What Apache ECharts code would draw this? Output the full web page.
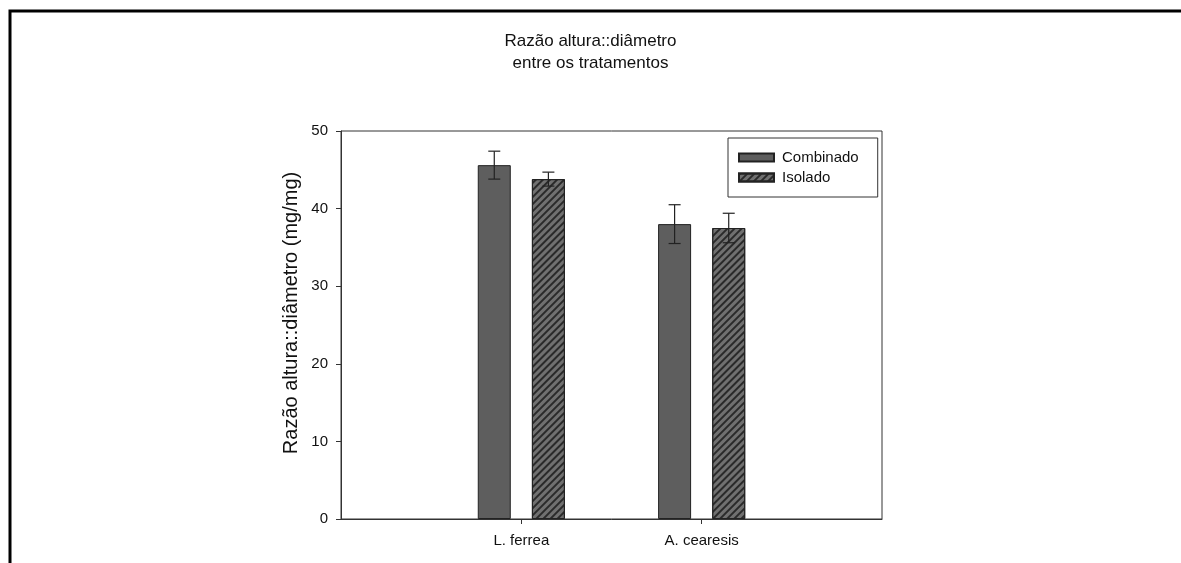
<!DOCTYPE html>
<html>
<head>
<meta charset="utf-8">
<script src="https://cdn.jsdelivr.net/npm/echarts@6/dist/echarts.min.js"></script>
<style>
html,body{margin:0;padding:0;background:#fff;}
#chart{width:1181px;height:563px;}
</style>
</head>
<body>
<div id="chart"></div>
<script>
// ---- data ----
const categories = ['L. ferrea', 'A. cearesis'];
const seriesNames = ['Combinado', 'Isolado'];
const combinadoMean = [45.6, 38.0];
const combinadoErr = [1.8, 2.5];
const isoladoMean = [43.8, 37.5];
const isoladoErr = [0.9, 1.9];
const yTicks = [0, 10, 20, 30, 40, 50];

const FONT = 'Liberation Sans, Arial, sans-serif';
const BAR_W = 33;
const BAR_GAP = '64%';

// category axis padded with empty slots on both ends
const axisCats = [''].concat(categories, ['']);
function pad(arr) { return [null].concat(arr, [null]); }

function errData(means, errs) {
  return means.map((m, i) => [i + 1, m, errs[i]]);
}

function makeErrSeries(name, means, errs, idx) {
  return {
    type: 'custom',
    name: name + ' err',
    data: errData(means, errs),
    z: 5,
    silent: true,
    renderItem: function (params, api) {
      const ci = api.value(0);
      const m = api.value(1);
      const e = api.value(2);
      let off = 0;
      const lay = api.barLayout ? api.barLayout({ count: 2, barWidth: BAR_W, barGap: BAR_GAP }) : null;
      if (lay && lay[idx]) {
        off = lay[idx].offsetCenter;
      } else {
        off = (idx === 0 ? -1 : 1) * 27;
      }
      const top = api.coord([ci, m + e]);
      const bot = api.coord([ci, m - e]);
      const x = top[0] + off;
      const cap = 6;
      const style = { stroke: '#222', lineWidth: 1.2 };
      return {
        type: 'group',
        children: [
          { type: 'line', shape: { x1: x, y1: top[1], x2: x, y2: bot[1] }, style: style },
          { type: 'line', shape: { x1: x - cap, y1: top[1], x2: x + cap, y2: top[1] }, style: style },
          { type: 'line', shape: { x1: x - cap, y1: bot[1], x2: x + cap, y2: bot[1] }, style: style }
        ]
      };
    }
  };
}

const chart = echarts.init(document.getElementById('chart'), null, { renderer: 'canvas' });
const option = {
  backgroundColor: '#ffffff',
  animation: false,
  title: {
    text: 'Razão altura::diâmetro\nentre os tratamentos',
    left: 'center',
    top: 25,
    textStyle: { fontFamily: FONT, fontSize: 17, fontWeight: 'normal', color: '#111', lineHeight: 22, align: 'center' }
  },
  legend: {
    data: seriesNames,
    orient: 'vertical',
    left: 728,
    top: 138,
    padding: [12, 19, 12, 10],
    itemWidth: 35,
    itemHeight: 8,
    itemGap: 5,
    icon: 'rect',
    borderColor: '#333',
    borderWidth: 1,
    textStyle: { fontFamily: FONT, fontSize: 15, color: '#111', padding: [0, 0, 0, 3] }
  },
  grid: {
    left: 341, right: 299, top: 131, bottom: 44,
    show: true, borderColor: '#333', borderWidth: 1, backgroundColor: 'transparent'
  },
  xAxis: {
    type: 'category',
    data: axisCats,
    boundaryGap: false,
    axisLine: { lineStyle: { color: '#333', width: 1 } },
    axisTick: { show: true, length: 5, interval: function (i, v) { return v !== ''; }, lineStyle: { color: '#333' } },
    axisLabel: { interval: 0, margin: 14, fontFamily: FONT, fontSize: 15, color: '#111' },
    splitLine: { show: false }
  },
  yAxis: {
    type: 'value',
    min: yTicks[0],
    max: yTicks[yTicks.length - 1],
    interval: yTicks[1] - yTicks[0],
    name: 'Razão altura::diâmetro (mg/mg)',
    nameLocation: 'middle',
    nameGap: 40,
    nameTextStyle: { fontFamily: FONT, fontSize: 20, color: '#111', padding: [0, 0, 0, 24] },
    axisLine: { show: true, lineStyle: { color: '#333', width: 1 } },
    axisTick: { show: true, length: 5, lineStyle: { color: '#333' } },
    axisLabel: { margin: 13, fontFamily: FONT, fontSize: 15, color: '#111' },
    splitLine: { show: false }
  },
  series: [
    {
      type: 'bar',
      name: seriesNames[0],
      data: pad(combinadoMean),
      barWidth: BAR_W,
      barGap: BAR_GAP,
      itemStyle: { color: '#5e5e5e', borderColor: '#222', borderWidth: 1 }
    },
    {
      type: 'bar',
      name: seriesNames[1],
      data: pad(isoladoMean),
      barWidth: BAR_W,
      barGap: BAR_GAP,
      itemStyle: {
        color: '#707070', borderColor: '#222', borderWidth: 1,
        decal: { symbol: 'rect', color: '#2a2a2a', dashArrayX: [1, 0], dashArrayY: [2, 3], rotation: -Math.PI / 4, symbolSize: 1 }
      }
    },
    makeErrSeries(seriesNames[0], combinadoMean, combinadoErr, 0),
    makeErrSeries(seriesNames[1], isoladoMean, isoladoErr, 1)
  ],
  graphic: [
    {
      type: 'polyline',
      silent: true,
      shape: { points: [[10, 563], [10, 11], [1181, 11]] },
      style: { stroke: '#000', lineWidth: 3, fill: null }
    }
  ]
};
chart.setOption(option);
</script>
</body>
</html>
